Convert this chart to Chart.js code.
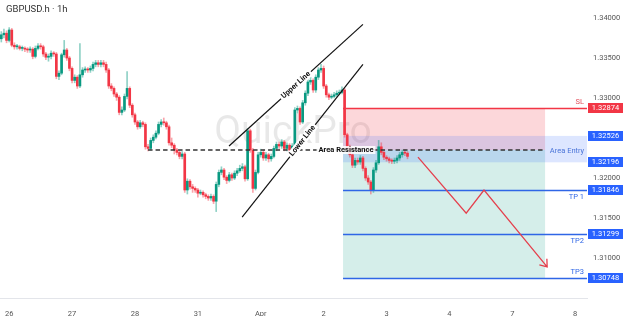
<!DOCTYPE html>
<html>
<head>
<meta charset="utf-8">
<script src="https://cdn.jsdelivr.net/npm/chart.js@4/dist/chart.umd.min.js"></script>
<style>
  html, body { margin: 0; padding: 0; background: #fff; }
</style>
</head>
<body>
<canvas id="fx" width="624" height="316"></canvas>
<script>
// hourly candles, GBPUSD
const firstOpen = 1.3374;
const closes = [
  1.3379, 1.3381, 1.3372, 1.3385, 1.3366, 1.3364, 1.3364, 1.3362, 1.3362, 1.3361,
  1.3360, 1.3361, 1.3352, 1.3362, 1.3365, 1.3364, 1.3355, 1.3351, 1.3352, 1.3356,
  1.3355, 1.3327, 1.3331, 1.3354, 1.3360, 1.3350, 1.3337, 1.3322, 1.3326, 1.3315,
  1.3329, 1.3335, 1.3336, 1.3335, 1.3337, 1.3342, 1.3344, 1.3342, 1.3344, 1.3342,
  1.3335, 1.3315, 1.3312, 1.3305, 1.3301, 1.3282, 1.3285, 1.3302, 1.3312, 1.3291,
  1.3279, 1.3270, 1.3264, 1.3269, 1.3267, 1.3239, 1.3237, 1.3247, 1.3251, 1.3256,
  1.3267, 1.3270, 1.3269, 1.3264, 1.3244, 1.3241, 1.3235, 1.3232, 1.3227, 1.3230,
  1.3185, 1.3196, 1.3189, 1.3187, 1.3185, 1.3181, 1.3182, 1.3179, 1.3177, 1.3175,
  1.3177, 1.3171, 1.3192, 1.3207, 1.3210, 1.3201, 1.3197, 1.3204, 1.3200, 1.3206,
  1.3209, 1.3212, 1.3214, 1.3199, 1.3259, 1.3235, 1.3187, 1.3207, 1.3229, 1.3232,
  1.3225, 1.3229, 1.3224, 1.3227, 1.3237, 1.3242, 1.3240, 1.3245, 1.3237, 1.3241,
  1.3235, 1.3240, 1.3285, 1.3287, 1.3270, 1.3294, 1.3306, 1.3320, 1.3322, 1.3310,
  1.3326, 1.3335, 1.3337, 1.3315, 1.3304, 1.3301, 1.3302, 1.3304, 1.3306, 1.3307,
  1.3310, 1.3254, 1.3239, 1.3229, 1.3216, 1.3222, 1.3220, 1.3225, 1.3212, 1.3200,
  1.3195, 1.3185, 1.3210, 1.3219, 1.3239, 1.3232, 1.3226, 1.3224, 1.3222, 1.3221,
  1.3222, 1.3225, 1.3229, 1.3232, 1.3231, 1.3227
];
const highs = [
  1.3383, 1.3386, 1.3384, 1.3388, 1.3387, 1.3369, 1.3367, 1.3366, 1.3365, 1.3364,
  1.3363, 1.3364, 1.3363, 1.3365, 1.3368, 1.3368, 1.3366, 1.3357, 1.3355, 1.3359,
  1.3358, 1.3357, 1.3334, 1.3356, 1.3372, 1.3362, 1.3352, 1.3339, 1.3329, 1.3328,
  1.3368, 1.3338, 1.3339, 1.3338, 1.3340, 1.3345, 1.3347, 1.3347, 1.3347, 1.3347,
  1.3345, 1.3337, 1.3318, 1.3314, 1.3307, 1.3303, 1.3289, 1.3305, 1.3333, 1.3314,
  1.3293, 1.3281, 1.3272, 1.3272, 1.3271, 1.3269, 1.3242, 1.3250, 1.3254, 1.3259,
  1.3270, 1.3273, 1.3275, 1.3271, 1.3266, 1.3250, 1.3243, 1.3237, 1.3234, 1.3233,
  1.3232, 1.3199, 1.3198, 1.3192, 1.3189, 1.3187, 1.3185, 1.3184, 1.3181, 1.3179,
  1.3180, 1.3179, 1.3195, 1.3210, 1.3214, 1.3212, 1.3203, 1.3207, 1.3206, 1.3209,
  1.3212, 1.3216, 1.3218, 1.3216, 1.3262, 1.3261, 1.3237, 1.3210, 1.3232, 1.3236,
  1.3235, 1.3232, 1.3231, 1.3230, 1.3240, 1.3245, 1.3245, 1.3248, 1.3247, 1.3244,
  1.3243, 1.3243, 1.3288, 1.3290, 1.3289, 1.3297, 1.3309, 1.3323, 1.3326, 1.3324,
  1.3329, 1.3338, 1.3342, 1.3340, 1.3317, 1.3306, 1.3305, 1.3307, 1.3309, 1.3310,
  1.3314, 1.3312, 1.3256, 1.3241, 1.3231, 1.3225, 1.3225, 1.3228, 1.3227, 1.3214,
  1.3203, 1.3197, 1.3213, 1.3222, 1.3247, 1.3244, 1.3234, 1.3228, 1.3226, 1.3224,
  1.3225, 1.3228, 1.3232, 1.3235, 1.3235, 1.3233
];
const lows = [
  1.3370, 1.3375, 1.3369, 1.3370, 1.3364, 1.3361, 1.3361, 1.3360, 1.3359, 1.3358,
  1.3357, 1.3357, 1.3349, 1.3350, 1.3360, 1.3361, 1.3352, 1.3348, 1.3346, 1.3349,
  1.3352, 1.3324, 1.3323, 1.3329, 1.3351, 1.3347, 1.3334, 1.3319, 1.3319, 1.3312,
  1.3313, 1.3326, 1.3332, 1.3332, 1.3332, 1.3334, 1.3339, 1.3339, 1.3339, 1.3339,
  1.3332, 1.3312, 1.3309, 1.3302, 1.3297, 1.3279, 1.3279, 1.3283, 1.3299, 1.3288,
  1.3276, 1.3267, 1.3261, 1.3262, 1.3264, 1.3236, 1.3234, 1.3235, 1.3244, 1.3249,
  1.3254, 1.3264, 1.3266, 1.3261, 1.3241, 1.3238, 1.3230, 1.3229, 1.3224, 1.3224,
  1.3182, 1.3180, 1.3186, 1.3182, 1.3182, 1.3176, 1.3179, 1.3176, 1.3174, 1.3172,
  1.3172, 1.3168, 1.3158, 1.3189, 1.3204, 1.3198, 1.3193, 1.3195, 1.3197, 1.3198,
  1.3203, 1.3207, 1.3209, 1.3196, 1.3197, 1.3232, 1.3182, 1.3185, 1.3205, 1.3226,
  1.3222, 1.3222, 1.3220, 1.3221, 1.3225, 1.3234, 1.3237, 1.3237, 1.3234, 1.3234,
  1.3232, 1.3232, 1.3238, 1.3281, 1.3267, 1.3268, 1.3291, 1.3303, 1.3317, 1.3307,
  1.3307, 1.3323, 1.3332, 1.3312, 1.3301, 1.3298, 1.3299, 1.3300, 1.3302, 1.3304,
  1.3305, 1.3251, 1.3236, 1.3226, 1.3213, 1.3213, 1.3217, 1.3217, 1.3209, 1.3197,
  1.3192, 1.3180, 1.3182, 1.3207, 1.3217, 1.3229, 1.3223, 1.3221, 1.3219, 1.3218,
  1.3218, 1.3219, 1.3222, 1.3226, 1.3228, 1.3224
];
// each bar opens where the previous one closed
const opens = closes.map((c, i) => (i === 0 ? firstOpen : closes[i - 1]));

// time axis: one slot per hour, day labels at the day starts
const hourSlots = 224;
const dayLabels = ['26', '27', '28', '31', 'Apr', '2', '3', '4', '7', '8'];
const dayIndex = [3, 27, 51, 75, 99, 123, 147, 171, 195, 219];
const priceTicks = [1.34, 1.335, 1.33, 1.32, 1.315, 1.31];

// trade setup drawn on the chart
const levelNames = ['SL', '', '', 'TP 1', 'TP2', 'TP3'];
const levelPrices = [1.32874, 1.32526, 1.32196, 1.31846, 1.31299, 1.30748];
const entryPrice = 1.3235;
const zoneFrom = 130.4;
const zoneTo = 207.5;
const resistanceFrom = 56;
const upperLine = [[86.9, 1.3240], [138, 1.3392]];
const lowerLine = [[91.9, 1.3151], [138, 1.3342]];
const arrowPath = [[159, 1.3226], [177.4, 1.3156], [184.2, 1.3185], [208.3, 1.3089]];

const labels = new Array(hourSlots).fill('');
dayIndex.forEach((d, i) => { labels[d] = dayLabels[i]; });

const UP = '#089981', DOWN = '#f23645', BLUE = '#2f66e6';
const upDown = closes.map((c, i) => c >= opens[i]);

function tagOnLine(ctx, text, px, py, ang) {
    ctx.save();
    ctx.translate(px, py);
    ctx.rotate(ang);
    ctx.font = 'bold 7.5px Roboto';
    const w = ctx.measureText(text).width;
    ctx.fillStyle = '#fff';
    ctx.fillRect(-w / 2 - 2, -4, w + 4, 8);
    ctx.fillStyle = '#111';
    ctx.textAlign = 'center';
    ctx.textBaseline = 'middle';
    ctx.fillText(text, 0, 0);
    ctx.restore();
}

const drawings = {
    id: 'drawings',
    beforeDatasetsDraw(chart) {
        const { ctx, chartArea: a, scales: { x, y } } = chart;
        const x0 = x.getPixelForValue(zoneFrom), x1 = x.getPixelForValue(zoneTo);
        ctx.save();
        ctx.font = '39px Roboto';
        ctx.fillStyle = 'rgba(0,0,0,0.09)';
        ctx.textAlign = 'center';
        ctx.fillText('QuickPro', 293, 143);

        const ySL = y.getPixelForValue(levelPrices[0]);
        const yEn = y.getPixelForValue(entryPrice);
        const yT3 = y.getPixelForValue(levelPrices[5]);
        ctx.fillStyle = 'rgba(242,54,69,0.2)';
        ctx.fillRect(x0, ySL, x1 - x0, yEn - ySL);
        ctx.fillStyle = 'rgba(8,153,129,0.17)';
        ctx.fillRect(x0, yEn, x1 - x0, yT3 - yEn);
        const yA = y.getPixelForValue(levelPrices[1]), yB = y.getPixelForValue(levelPrices[2]);
        ctx.fillStyle = 'rgba(41,98,255,0.16)';
        ctx.fillRect(x0, yA, a.right - x0, yB - yA);
        ctx.restore();
    },
    afterDatasetsDraw(chart) {
        const { ctx, chartArea: a, scales: { x, y } } = chart;
        const x0 = x.getPixelForValue(zoneFrom), x1 = x.getPixelForValue(zoneTo);
        ctx.save();

        // SL / TP lines
        levelPrices.forEach((p, i) => {
            if (!levelNames[i]) return;
            const yp = Math.round(y.getPixelForValue(p)) + 0.5;
            ctx.strokeStyle = i === 0 ? DOWN : BLUE;
            ctx.lineWidth = 1.5;
            ctx.beginPath();
            ctx.moveTo(x0, yp);
            ctx.lineTo(a.right, yp);
            ctx.stroke();
            ctx.font = '7.5px Roboto';
            ctx.fillStyle = i === 0 ? '#e2505c' : BLUE;
            ctx.textAlign = 'right';
            ctx.textBaseline = 'middle';
            const dy = (i === 0 || i === 5) ? -6.5 : 6.5;
            ctx.fillText(levelNames[i], a.right - 3, yp + dy);
        });

        const yA = y.getPixelForValue(levelPrices[1]), yB = y.getPixelForValue(levelPrices[2]);
        ctx.font = '7.5px Roboto';
        ctx.fillStyle = '#4a74d8';
        ctx.textAlign = 'center';
        ctx.fillText('Area Entry', 567, (yA + yB) / 2 + 2);

        // resistance dashed line
        const yEn = y.getPixelForValue(entryPrice);
        ctx.strokeStyle = '#333';
        ctx.lineWidth = 1.5;
        ctx.setLineDash([4.5, 3]);
        ctx.beginPath();
        ctx.moveTo(x.getPixelForValue(resistanceFrom), yEn);
        ctx.lineTo(x1, yEn);
        ctx.stroke();
        ctx.setLineDash([]);
        ctx.font = 'bold 7.5px Roboto';
        const rw = ctx.measureText('Area Resistance').width;
        ctx.fillStyle = 'rgba(255,255,255,0.85)';
        ctx.fillRect(346 - rw / 2 - 2, yEn - 4, rw + 4, 8);
        ctx.fillStyle = '#111';
        ctx.textBaseline = 'middle';
        ctx.fillText('Area Resistance', 346, yEn);

        // channel
        [[upperLine, 'Upper Line'], [lowerLine, 'Lower Line']].forEach(([pts, name]) => {
            const p = pts.map(([t, v]) => [x.getPixelForValue(t), y.getPixelForValue(v)]);
            ctx.strokeStyle = '#111';
            ctx.lineWidth = 1.2;
            ctx.beginPath();
            ctx.moveTo(p[0][0], p[0][1]);
            ctx.lineTo(p[1][0], p[1][1]);
            ctx.stroke();
            const ang = Math.atan2(p[1][1] - p[0][1], p[1][0] - p[0][0]);
            tagOnLine(ctx, name, (p[0][0] + p[1][0]) / 2, (p[0][1] + p[1][1]) / 2, ang);
        });

        // projected path
        const ap = arrowPath.map(([t, v]) => [x.getPixelForValue(t), y.getPixelForValue(v)]);
        ctx.strokeStyle = '#e4404d';
        ctx.lineWidth = 1.3;
        ctx.beginPath();
        ap.forEach(([px, py], i) => (i ? ctx.lineTo(px, py) : ctx.moveTo(px, py)));
        const [tx, ty] = ap[ap.length - 1], [sx, sy] = ap[ap.length - 2];
        const back = Math.atan2(sy - ty, sx - tx);
        ctx.moveTo(tx + 8 * Math.cos(back + 0.65), ty + 8 * Math.sin(back + 0.65));
        ctx.lineTo(tx, ty);
        ctx.lineTo(tx + 8 * Math.cos(back - 0.65), ty + 8 * Math.sin(back - 0.65));
        ctx.stroke();
        ctx.restore();
    },
    afterDraw(chart) {
        const { ctx, chartArea: a, scales: { y } } = chart;
        ctx.save();
        levelPrices.forEach((p, i) => {
            const yp = Math.round(y.getPixelForValue(p));
            ctx.fillStyle = i === 0 ? DOWN : '#2962ff';
            ctx.fillRect(a.right + 1, yp - 5, 35, 10);
            ctx.fillStyle = '#fff';
            ctx.font = '7.5px Roboto';
            ctx.textAlign = 'center';
            ctx.textBaseline = 'middle';
            ctx.fillText(p.toFixed(5), a.right + 18.5, yp + 0.5);
        });
        ctx.fillStyle = '#333';
        ctx.font = '9.5px Roboto';
        ctx.textAlign = 'left';
        ctx.textBaseline = 'middle';
        ctx.fillText('GBPUSD.h · 1h', 6, 10);
        ctx.restore();
    }
};

new Chart(document.getElementById('fx'), {
    type: 'bar',
    data: {
        labels: labels,
        datasets: [
            {
                data: lows.map((l, i) => [l, highs[i]]),
                backgroundColor: upDown.map(u => (u ? 'rgba(8,153,129,0.45)' : 'rgba(242,54,69,0.45)')),
                barThickness: 1,
                grouped: false,
                order: 2
            },
            {
                data: opens.map((o, i) => [o, closes[i]]),
                backgroundColor: upDown.map(u => (u ? UP : DOWN)),
                barThickness: 2,
                minBarLength: 1,
                grouped: false,
                order: 1
            }
        ]
    },
    options: {
        responsive: false,
        animation: false,
        layout: { padding: 0 },
        plugins: { legend: { display: false }, tooltip: { enabled: false } },
        scales: {
            x: {
                grid: { display: false },
                border: { display: true, color: '#e3e5ea' },
                ticks: {
                    autoSkip: false, maxRotation: 0, minRotation: 0, padding: 4,
                    color: '#555', font: { family: 'Roboto', size: 7.5 }
                },
                afterFit(s) { s.height = 18; s.paddingLeft = 0; s.paddingRight = 0; }
            },
            y: {
                position: 'right',
                min: 1.305,
                max: 1.34225,
                grid: { display: false, drawTicks: false },
                border: { display: false },
                afterBuildTicks(s) { s.ticks = priceTicks.map(v => ({ value: v })); },
                ticks: {
                    padding: 6, color: '#555', font: { family: 'Roboto', size: 7.5 },
                    callback: v => v.toFixed(5)
                },
                afterFit(s) { s.width = 37; s.paddingTop = 0; s.paddingBottom = 0; }
            }
        }
    },
    plugins: [drawings]
});
</script>
</body>
</html>
